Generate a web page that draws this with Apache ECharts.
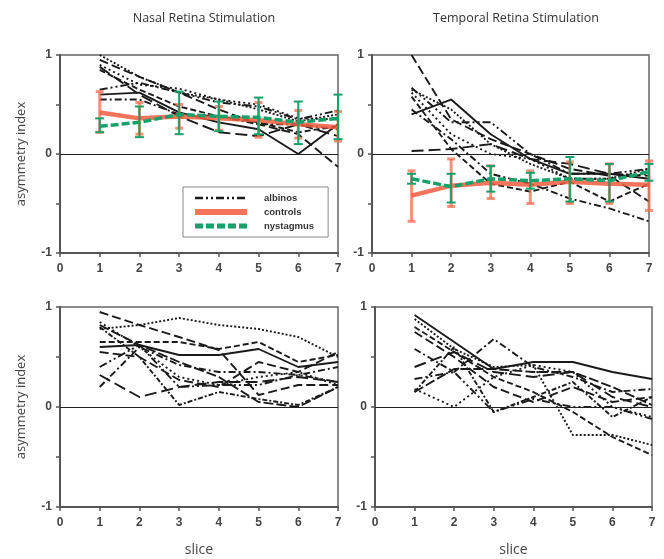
<!DOCTYPE html>
<html><head><meta charset="utf-8">
<script src="https://cdn.jsdelivr.net/npm/echarts@6/dist/echarts.min.js"></script>
<style>html,body{margin:0;background:#fff}#c{width:664px;height:559px}</style>
</head><body><div id="c"></div>
<script>
// slice numbers along the x axis
const slices = [1, 2, 3, 4, 5, 6, 7];
const yTicks = [-1, 0, 1];

// Top row: group curves with means and error ranges
const nasalAlbinos = [
  [0.65, 0.72, 0.62, 0.52, 0.48, 0.35, 0.44],
  [0.95, 0.78, 0.62, 0.45, 0.30, 0.20, -0.13],
  [1.00, 0.78, 0.62, 0.55, 0.45, 0.33, 0.40],
  [0.85, 0.65, 0.48, 0.38, 0.32, 0.22, 0.28],
  [0.60, 0.62, 0.42, 0.32, 0.25, 0.00, 0.30],
  [0.55, 0.55, 0.40, 0.38, 0.30, 0.30, 0.25],
  [0.88, 0.60, 0.38, 0.22, 0.18, 0.30, 0.18],
  [0.90, 0.70, 0.66, 0.55, 0.50, 0.36, 0.35]
];
const nasalControls = [0.42, 0.36, 0.38, 0.36, 0.34, 0.30, 0.27];
const nasalControlsLow = [0.22, 0.20, 0.26, 0.24, 0.17, 0.16, 0.13];
const nasalControlsHigh = [0.63, 0.52, 0.50, 0.48, 0.52, 0.44, 0.43];
const nasalNystagmus = [0.28, 0.32, 0.40, 0.38, 0.37, 0.32, 0.36];
const nasalNystagmusLow = [0.22, 0.17, 0.20, 0.23, 0.20, 0.10, 0.15];
const nasalNystagmusHigh = [0.36, 0.48, 0.63, 0.53, 0.57, 0.53, 0.60];

const temporalAlbinos = [
  [0.67, 0.32, 0.32, 0.00, -0.20, -0.20, -0.15],
  [1.00, 0.35, 0.15, 0.00, -0.15, -0.22, -0.48],
  [0.65, 0.45, 0.10, -0.10, -0.25, -0.25, -0.15],
  [0.58, 0.05, -0.30, -0.38, -0.28, -0.48, -0.30],
  [0.40, 0.55, 0.20, -0.05, -0.20, -0.20, -0.25],
  [0.45, 0.15, -0.20, -0.30, -0.45, -0.55, -0.68],
  [0.03, 0.05, 0.10, -0.05, -0.10, -0.20, -0.22],
  [0.62, 0.20, 0.00, -0.05, -0.25, -0.25, -0.20]
];
const temporalControls = [-0.42, -0.32, -0.29, -0.31, -0.28, -0.30, -0.31];
const temporalControlsLow = [-0.68, -0.53, -0.45, -0.50, -0.50, -0.50, -0.57];
const temporalControlsHigh = [-0.17, -0.05, -0.12, -0.17, -0.08, -0.10, -0.07];
const temporalNystagmus = [-0.25, -0.33, -0.25, -0.27, -0.25, -0.27, -0.18];
const temporalNystagmusLow = [-0.30, -0.49, -0.38, -0.35, -0.48, -0.48, -0.27];
const temporalNystagmusHigh = [-0.20, -0.20, -0.12, -0.19, -0.03, -0.10, -0.10];

// Bottom row: individual curves
const nasalIndividuals = [
  [0.95, 0.82, 0.70, 0.57, 0.12, 0.22, 0.22],
  [0.78, 0.82, 0.89, 0.82, 0.78, 0.70, 0.50],
  [0.65, 0.65, 0.65, 0.58, 0.65, 0.45, 0.52],
  [0.60, 0.62, 0.52, 0.52, 0.58, 0.40, 0.45],
  [0.20, 0.60, 0.42, 0.35, 0.35, 0.32, 0.40],
  [0.32, 0.10, 0.20, 0.25, 0.25, 0.30, 0.25],
  [0.85, 0.60, 0.30, 0.22, 0.30, 0.35, 0.22],
  [0.80, 0.50, 0.02, 0.15, 0.08, 0.02, 0.20],
  [0.82, 0.62, 0.45, 0.30, 0.05, 0.00, 0.20],
  [0.40, 0.62, 0.20, 0.22, 0.22, 0.32, 0.25],
  [0.55, 0.50, 0.27, 0.20, 0.45, 0.35, 0.55]
];
const temporalIndividuals = [
  [0.88, 0.58, 0.40, 0.42, -0.28, -0.28, -0.38],
  [0.80, 0.55, 0.30, 0.15, -0.05, -0.30, -0.48],
  [0.92, 0.65, 0.38, 0.45, 0.45, 0.35, 0.28],
  [0.58, 0.35, 0.68, 0.40, 0.30, 0.15, 0.18],
  [0.40, 0.55, 0.35, 0.30, 0.35, 0.10, 0.00],
  [0.18, 0.00, 0.30, 0.42, 0.35, 0.00, -0.10],
  [0.15, 0.60, -0.05, 0.10, 0.25, -0.10, 0.10],
  [0.15, 0.38, 0.38, 0.35, 0.35, 0.20, 0.02],
  [0.28, 0.35, -0.05, 0.08, 0.00, 0.00, -0.12],
  [0.75, 0.50, 0.20, 0.05, 0.20, 0.05, 0.10]
];

// line patterns cycled over the black curves
const dashes = [
  [8, 3, 2, 3, 2, 3], [9, 4], [2, 2], [6, 3], 'solid', [7, 3, 2, 3], [12, 5], [2, 3], [5, 2, 2, 2], [10, 3]
];

const INK = '#1a1a1a';
const RED = 'rgba(242,92,62,0.85)';
const GREEN = '#17a06a';
const FONT = 'Liberation Sans';

function pairs(vals) { return vals.map((v, i) => [slices[i], v]); }

function blackLine(name, vals, g, k) {
  return {
    type: 'line', name: name, xAxisIndex: g, yAxisIndex: g,
    data: pairs(vals), symbol: 'none', silent: true, z: 2,
    itemStyle: { color: INK },
    lineStyle: { color: INK, width: 1.9, type: dashes[k % dashes.length] }
  };
}

function errorBars(low, high, g, color, lw, cap, z) {
  return {
    type: 'custom', xAxisIndex: g, yAxisIndex: g, silent: true, z: z,
    data: low.map((v, i) => [slices[i], v, high[i]]),
    renderItem: function (params, api) {
      const a = api.coord([api.value(0), api.value(1)]);
      const b = api.coord([api.value(0), api.value(2)]);
      const st = { stroke: color, lineWidth: lw };
      return {
        type: 'group', children: [
          { type: 'line', shape: { x1: a[0], y1: a[1], x2: b[0], y2: b[1] }, style: st },
          { type: 'line', shape: { x1: a[0] - cap, y1: a[1], x2: a[0] + cap, y2: a[1] }, style: st },
          { type: 'line', shape: { x1: b[0] - cap, y1: b[1], x2: b[0] + cap, y2: b[1] }, style: st }
        ]
      };
    }
  };
}

function zeroLine(g) {
  return {
    type: 'line', xAxisIndex: g, yAxisIndex: g, data: [], silent: true,
    markLine: {
      silent: true, symbol: 'none', label: { show: false },
      lineStyle: { color: '#222', width: 1, type: 'solid' },
      data: [{ yAxis: 0 }]
    }
  };
}

const grids = [
  { left: 60, top: 55, width: 278, height: 198 },
  { left: 372, top: 55, width: 277, height: 198 },
  { left: 60, top: 307, width: 278, height: 200 },
  { left: 375, top: 307, width: 277, height: 200 }
].map(g => Object.assign({ show: true, borderColor: '#666', borderWidth: 1.5, backgroundColor: '#fff' }, g));

const axisLineStyle = { color: '#555', width: 2 };
const xAxes = grids.map((g, i) => ({
  gridIndex: i, type: 'value', min: 0, max: 7, interval: 1,
  name: i >= 2 ? 'slice' : '', nameLocation: 'middle', nameGap: 36,
  nameTextStyle: { fontFamily: 'Open Sans', fontSize: 14, color: '#444' },
  axisLine: { onZero: false, lineStyle: axisLineStyle },
  axisTick: { length: 4, lineStyle: { color: '#555', width: 1.5 } },
  axisLabel: { fontFamily: FONT, fontSize: 12, fontWeight: 'bold', color: '#444', margin: 10 },
  splitLine: { show: false }
}));
const yAxes = grids.map((g, i) => ({
  gridIndex: i, type: 'value', min: -1, max: 1, interval: 0.5,
  name: (i % 2 === 0) ? 'asymmetry index' : '', nameLocation: 'middle', nameGap: 32,
  nameTextStyle: { fontFamily: 'Open Sans', fontSize: 13, color: '#444' },
  axisLine: { onZero: false, lineStyle: axisLineStyle },
  axisTick: { length: 4, lineStyle: { color: '#555', width: 1.5 } },
  axisLabel: {
    fontFamily: FONT, fontSize: 12, fontWeight: 'bold', color: '#444', margin: 8,
    formatter: v => (yTicks.indexOf(v) >= 0 ? String(v) : '')
  },
  splitLine: { show: false }
}));

const series = [];
[0, 1, 2, 3].forEach(g => series.push(zeroLine(g)));
nasalAlbinos.forEach((v, k) => series.push(blackLine('albinos', v, 0, k)));
temporalAlbinos.forEach((v, k) => series.push(blackLine('albinos', v, 1, k)));
nasalIndividuals.forEach((v, k) => series.push(blackLine('nasal ' + k, v, 2, k + 1)));
temporalIndividuals.forEach((v, k) => series.push(blackLine('temporal ' + k, v, 3, k + 2)));

function groupSeries(g, ctl, ctlLow, ctlHigh, nys, nysLow, nysHigh) {
  series.push(errorBars(ctlLow, ctlHigh, g, 'rgba(244,110,80,0.75)', 3, 4, 5));
  series.push({
    type: 'line', name: 'controls', xAxisIndex: g, yAxisIndex: g, data: pairs(ctl),
    symbol: 'none', silent: true, z: 6, itemStyle: { color: RED },
    lineStyle: { color: RED, width: 4.5 }
  });
  series.push(errorBars(nysLow, nysHigh, g, GREEN, 2, 4.5, 7));
  series.push({
    type: 'line', name: 'nystagmus', xAxisIndex: g, yAxisIndex: g, data: pairs(nys),
    symbol: 'none', silent: true, z: 8, itemStyle: { color: GREEN },
    lineStyle: { color: GREEN, width: 3.5, type: [8, 3] }
  });
}
groupSeries(0, nasalControls, nasalControlsLow, nasalControlsHigh, nasalNystagmus, nasalNystagmusLow, nasalNystagmusHigh);
groupSeries(1, temporalControls, temporalControlsLow, temporalControlsHigh, temporalNystagmus, temporalNystagmusLow, temporalNystagmusHigh);

const chart = echarts.init(document.getElementById('c'));
chart.setOption({
  animation: false,
  backgroundColor: '#fff',
  title: [
    { text: 'Nasal Retina Stimulation', left: 199, top: 7, textAlign: 'center',
      textStyle: { fontFamily: 'Open Sans', fontSize: 12.5, fontWeight: 'normal', color: '#333' } },
    { text: 'Temporal Retina Stimulation', left: 511, top: 7, textAlign: 'center',
      textStyle: { fontFamily: 'Open Sans', fontSize: 12.5, fontWeight: 'normal', color: '#333' } }
  ],
  legend: {
    data: [
      { name: 'albinos', lineStyle: { width: 2.5 } },
      { name: 'controls', lineStyle: { width: 6 } },
      { name: 'nystagmus', lineStyle: { width: 5 } }
    ],
    orient: 'vertical', left: 183, top: 187,
    selectedMode: false, backgroundColor: '#fff', borderColor: '#888', borderWidth: 1,
    padding: [6, 14, 6, 9], itemGap: 4, itemWidth: 52, itemHeight: 9,
    itemStyle: { opacity: 0 },
    textStyle: { fontFamily: FONT, fontSize: 9.5, fontWeight: 'bold', color: '#333', padding: [0, 0, 0, 12] }
  },
  grid: grids, xAxis: xAxes, yAxis: yAxes, series: series
});
</script></body></html>
